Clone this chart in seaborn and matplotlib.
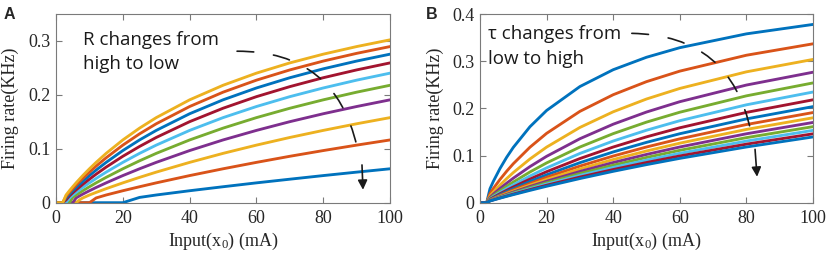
import numpy as np
import pandas as pd
import matplotlib
matplotlib.use("Agg")
import matplotlib.pyplot as plt
from matplotlib.ticker import FuncFormatter
import seaborn as sns

# MATLAB default colour order
COLORS = ["#0072BD", "#D95319", "#EDB120", "#7E2F8E", "#77AC30", "#4DBEEE", "#A2142F"]

# ── Panel A: R changes from high to low (bottom curve first) ──────
X_A = [0, 2, 3, 4, 5, 6, 7, 8, 10, 12, 15, 20, 25, 30, 40, 50, 60, 70, 80, 90, 100]
A_R01 = [0, 0, 0, 0, 0, 0, 0, 0, 0, 0, 0, 0, 0.0098, 0.0143, 0.0222, 0.0296, 0.0368, 0.0436, 0.0503, 0.0567, 0.0629]
A_R02 = [0, 0, 0, 0, 0, 0, 0, 0, 0, 0.0088, 0.0143, 0.0222, 0.0296, 0.0368, 0.0503, 0.0629, 0.0748, 0.0861, 0.0967, 0.1068, 0.1164]
A_R03 = [0, 0, 0, 0, 0, 0, 0.0052, 0.0088, 0.0143, 0.0191, 0.0260, 0.0368, 0.0470, 0.0567, 0.0748, 0.0915, 0.1068, 0.1210, 0.1341, 0.1464, 0.1578]
A_R04 = [0, 0, 0, 0, 0, 0.0088, 0.0125, 0.0159, 0.0222, 0.0282, 0.0368, 0.0503, 0.0629, 0.0748, 0.0967, 0.1164, 0.1341, 0.1503, 0.1650, 0.1784, 0.1908]
A_R05 = [0, 0, 0, 0, 0.0098, 0.0143, 0.0183, 0.0222, 0.0296, 0.0368, 0.0470, 0.0629, 0.0777, 0.0915, 0.1164, 0.1383, 0.1578, 0.1752, 0.1908, 0.2050, 0.2178]
A_R06 = [0, 0, 0, 0.0088, 0.0143, 0.0191, 0.0237, 0.0282, 0.0368, 0.0450, 0.0567, 0.0748, 0.0915, 0.1068, 0.1341, 0.1578, 0.1784, 0.1967, 0.2128, 0.2273, 0.2403]
A_R07 = [0, 0, 0.0052, 0.0125, 0.0183, 0.0237, 0.0289, 0.0340, 0.0436, 0.0529, 0.0660, 0.0861, 0.1043, 0.1210, 0.1503, 0.1752, 0.1967, 0.2153, 0.2318, 0.2463, 0.2593]
A_R08 = [0, 0, 0.0088, 0.0159, 0.0222, 0.0282, 0.0340, 0.0395, 0.0503, 0.0605, 0.0748, 0.0967, 0.1164, 0.1341, 0.1650, 0.1908, 0.2128, 0.2318, 0.2483, 0.2627, 0.2755]
A_R09 = [0, 0, 0.0117, 0.0191, 0.0260, 0.0325, 0.0389, 0.0450, 0.0567, 0.0678, 0.0833, 0.1068, 0.1277, 0.1464, 0.1784, 0.2050, 0.2273, 0.2463, 0.2627, 0.2770, 0.2896]
A_R10 = [0, 0, 0.0143, 0.0222, 0.0296, 0.0368, 0.0436, 0.0503, 0.0629, 0.0748, 0.0915, 0.1164, 0.1383, 0.1578, 0.1908, 0.2178, 0.2403, 0.2593, 0.2755, 0.2896, 0.3021]

# ── Panel B: tau changes from low to high (top curve first) ───────
X_B = [0, 2, 3, 4, 6, 8, 10, 15, 20, 30, 40, 50, 60, 80, 100]
B_T01 = [0, 0, 0.0295, 0.0451, 0.0724, 0.0962, 0.1172, 0.1610, 0.1955, 0.2462, 0.2819, 0.3083, 0.3286, 0.3579, 0.3779]
B_T02 = [0, 0, 0.0194, 0.0301, 0.0492, 0.0666, 0.0826, 0.1176, 0.1470, 0.1936, 0.2289, 0.2566, 0.2789, 0.3126, 0.3368]
B_T03 = [0, 0, 0.0145, 0.0226, 0.0373, 0.0510, 0.0638, 0.0927, 0.1178, 0.1595, 0.1927, 0.2198, 0.2422, 0.2774, 0.3037]
B_T04 = [0, 0, 0.0115, 0.0180, 0.0301, 0.0413, 0.0520, 0.0765, 0.0983, 0.1356, 0.1664, 0.1922, 0.2141, 0.2494, 0.2766]
B_T05 = [0, 0, 0.0096, 0.0150, 0.0251, 0.0347, 0.0438, 0.0651, 0.0843, 0.1180, 0.1464, 0.1708, 0.1918, 0.2265, 0.2539]
B_T06 = [0, 0, 0.0082, 0.0129, 0.0216, 0.0299, 0.0379, 0.0566, 0.0738, 0.1044, 0.1307, 0.1536, 0.1738, 0.2075, 0.2346]
B_T07 = [0, 0, 0.0072, 0.0113, 0.0190, 0.0263, 0.0334, 0.0501, 0.0657, 0.0936, 0.1180, 0.1396, 0.1588, 0.1914, 0.2181]
B_T08 = [0, 0, 0.0064, 0.0100, 0.0169, 0.0235, 0.0298, 0.0450, 0.0591, 0.0848, 0.1076, 0.1279, 0.1462, 0.1776, 0.2037]
B_T09 = [0, 0, 0.0057, 0.0090, 0.0152, 0.0212, 0.0270, 0.0408, 0.0538, 0.0776, 0.0989, 0.1181, 0.1354, 0.1657, 0.1911]
B_T10 = [0, 0, 0.0052, 0.0082, 0.0139, 0.0193, 0.0246, 0.0373, 0.0493, 0.0715, 0.0915, 0.1096, 0.1262, 0.1553, 0.1800]
B_T11 = [0, 0, 0.0048, 0.0075, 0.0127, 0.0177, 0.0226, 0.0344, 0.0455, 0.0662, 0.0851, 0.1023, 0.1181, 0.1461, 0.1701]
B_T12 = [0, 0, 0.0044, 0.0069, 0.0117, 0.0164, 0.0209, 0.0319, 0.0423, 0.0617, 0.0795, 0.0959, 0.1110, 0.1379, 0.1612]
B_T13 = [0, 0, 0.0041, 0.0064, 0.0109, 0.0152, 0.0195, 0.0297, 0.0395, 0.0578, 0.0747, 0.0902, 0.1047, 0.1306, 0.1533]
B_T14 = [0, 0, 0.0038, 0.0060, 0.0102, 0.0142, 0.0182, 0.0278, 0.0370, 0.0543, 0.0703, 0.0852, 0.0991, 0.1241, 0.1460]
B_T15 = [0, 0, 0.0036, 0.0056, 0.0096, 0.0134, 0.0171, 0.0261, 0.0348, 0.0512, 0.0665, 0.0807, 0.0940, 0.1181, 0.1394]

# annotation guides (dashed arc start/end, then solid arrow tail/head)
GUIDE_A = [(54.2, 0.281), (90.1, 0.104), (91.6, 0.070), (91.9, 0.024)]
GUIDE_B = [(45.6, 0.359), (81.4, 0.149), (82.6, 0.113), (83.2, 0.055)]

TEXT_A = "R changes from\nhigh to low"
TEXT_B = "\u03c4 changes from\nlow to high"
XLABEL = "Input(x$_0$) (mA)"
YLABEL = "Firing rate(KHz)"

SERIF = ["Liberation Serif", "DejaVu Serif"]
SANS = ["Open Sans", "DejaVu Sans"]

sns.set_theme(style="ticks")
plt.rcParams["font.family"] = SERIF
plt.rcParams["mathtext.fontset"] = "custom"
plt.rcParams["mathtext.rm"] = "Liberation Serif"
plt.rcParams["mathtext.it"] = "Liberation Serif"

AX_GRAY = "#7a7a7a"
TXT = "#262626"
FS = 13


def to_long(x, curves):
    frames = []
    for i, y in enumerate(curves):
        frames.append(pd.DataFrame({"x": x, "rate": y, "curve": f"c{i:02d}"}))
    return pd.concat(frames, ignore_index=True)


def draw_panel(ax, x, curves, ylim, yticks):
    df = to_long(x, curves)
    order = [f"c{i:02d}" for i in range(len(curves))]
    pal = [COLORS[i % len(COLORS)] for i in range(len(curves))]
    sns.lineplot(data=df, x="x", y="rate", hue="curve", hue_order=order,
                 palette=pal, legend=False, linewidth=2.05, estimator=None,
                 sort=False, ax=ax)
    ax.set_xlim(0, 100)
    ax.set_ylim(*ylim)
    ax.set_xticks([0, 20, 40, 60, 80, 100])
    ax.set_yticks(yticks)
    ax.yaxis.set_major_formatter(FuncFormatter(lambda v, p: f"{v:g}"))
    ax.tick_params(direction="in", top=True, right=True, length=4, width=0.8,
                   color=AX_GRAY, labelsize=FS, labelcolor=TXT, pad=4)
    ax.tick_params(axis="x", pad=5)
    for lbl in ax.get_xticklabels() + ax.get_yticklabels():
        lbl.set_fontfamily(SERIF)
    for s in ax.spines.values():
        s.set_visible(True)
        s.set_color(AX_GRAY)
        s.set_linewidth(0.8)
    ax.set_xlabel(XLABEL, fontsize=FS, color=TXT, family=SERIF)
    ax.set_ylabel(YLABEL, fontsize=FS, color=TXT, family=SERIF)


def draw_guide(ax, g):
    ax.annotate("", xy=g[1], xytext=g[0],
                arrowprops=dict(arrowstyle="-", color="k", lw=1.2,
                                linestyle=(0, (10, 12)),
                                connectionstyle="arc3,rad=-0.4",
                                shrinkA=0, shrinkB=0))
    ax.annotate("", xy=g[3], xytext=g[2],
                arrowprops=dict(arrowstyle="-|>", color="k", lw=1.2,
                                mutation_scale=14, shrinkA=0, shrinkB=0))


fig = plt.figure(figsize=(8.29, 2.56), dpi=100)
ax_a = fig.add_axes([0.0676, 0.2082, 0.4029, 0.7371])
ax_b = fig.add_axes([0.5790, 0.2082, 0.4017, 0.7371])

draw_panel(ax_a, X_A, [A_R01, A_R02, A_R03, A_R04, A_R05, A_R06, A_R07, A_R08, A_R09, A_R10],
           (0, 0.35), [0, 0.1, 0.2, 0.3])
draw_panel(ax_b, X_B, [B_T01, B_T02, B_T03, B_T04, B_T05, B_T06, B_T07, B_T08,
                       B_T09, B_T10, B_T11, B_T12, B_T13, B_T14, B_T15],
           (0, 0.4), [0, 0.1, 0.2, 0.3, 0.4])

ax_a.yaxis.set_label_coords(-0.111, 0.5)
ax_b.yaxis.set_label_coords(-0.108, 0.5)
ax_a.xaxis.set_label_coords(0.5, -0.15)
ax_b.xaxis.set_label_coords(0.5, -0.15)

draw_guide(ax_a, GUIDE_A)
draw_guide(ax_b, GUIDE_B)

ax_a.text(8.1, 0.319, TEXT_A, family=SANS, fontsize=13.5,
          va="top", ha="left", color="k", linespacing=1.45)
ax_b.text(2.4, 0.376, TEXT_B, family=SANS, fontsize=13.5,
          va="top", ha="left", color="k", linespacing=1.45)

fig.text(0.004, 0.972, "A", family=["Liberation Sans", "DejaVu Sans"],
         fontsize=11.5, fontweight="bold", va="top", ha="left")
fig.text(0.514, 0.972, "B", family=["Liberation Sans", "DejaVu Sans"],
         fontsize=11.5, fontweight="bold", va="top", ha="left")

fig.savefig("out.png", dpi=100)
